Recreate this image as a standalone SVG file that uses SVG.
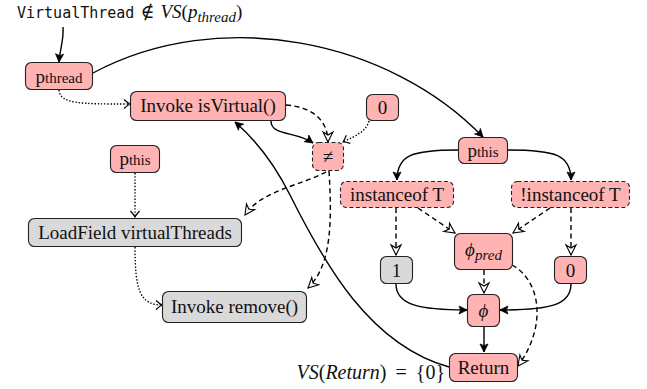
<svg xmlns="http://www.w3.org/2000/svg" width="647" height="389" viewBox="0 0 647 389">
<style>
.n rect{stroke:#222;stroke-width:1.1}
.pink{fill:#FFB3B3}
.gray{fill:#D9D9D9}
.dn rect{stroke-dasharray:4 2.5}
text{font-family:"Liberation Serif","DejaVu Serif",serif;font-size:19px;fill:#111;text-anchor:middle}
.e path{fill:none;stroke:#000;stroke-width:1.4}
.sol{marker-end:url(#ms)}
.dash{stroke-dasharray:5 3.5;marker-end:url(#md)}
.dot{stroke-dasharray:1.4 1.8;marker-end:url(#mt)}
</style>
<defs>
<marker id="ms" markerUnits="userSpaceOnUse" orient="auto" refX="0" refY="0" viewBox="-9 -6 10 12" markerWidth="10" markerHeight="12" overflow="visible">
<path d="M0,0 L-8,-4 Q-5,0 -8,4 Z" fill="#000" stroke="#000" stroke-width="0.8" stroke-linejoin="round"/>
</marker>
<marker id="md" markerUnits="userSpaceOnUse" orient="auto" refX="0" refY="0" viewBox="-10 -6 11 12" markerWidth="11" markerHeight="12" overflow="visible">
<path d="M0,0 L-10,-5 L-7,0 L-10,5 Z" fill="#fff" stroke="#000" stroke-width="1.1" stroke-linejoin="miter"/>
</marker>
<marker id="mt" markerUnits="userSpaceOnUse" orient="auto" refX="0" refY="0" viewBox="-9 -6 10 12" markerWidth="10" markerHeight="12" overflow="visible">
<path d="M-6,-4.5 Q-2,-1 0,0 Q-2,1 -6,4.5" fill="none" stroke="#000" stroke-width="1.2"/>
</marker>
</defs>

<g id="title">
<text x="17" y="18" style="text-anchor:start"><tspan style="font-family:'DejaVu Sans Mono','Liberation Mono',monospace;font-size:15px">VirtualThread</tspan><tspan dx="6">∉</tspan><tspan dx="6" font-style="italic">VS</tspan><tspan>(</tspan><tspan font-style="italic">p</tspan><tspan font-style="italic" font-size="15" dy="4">thread</tspan><tspan dy="-4">)</tspan></text>
</g>
<g id="vsreturn">
<text x="445" y="379" style="text-anchor:end;font-size:20px"><tspan font-style="italic">VS</tspan>(<tspan font-style="italic">Return</tspan>)<tspan dx="9">=</tspan><tspan dx="9">{0}</tspan></text>
</g>

<g id="connectors" class="e">
<path class="sol" d="M63 27 C64 40 60 48 59 62"/>
<path class="sol" d="M93 73 C220 5 390 40 483 137"/>
<path class="dot" d="M59 90 C60 104 80 104 130 104"/>
<path class="sol" d="M271 121 C271 136 296 131 313 143"/>
<path class="dash" d="M286 105 C312 107 328 120 328 142"/>
<path class="dot" d="M369 121 C366 132 355 136 343 142"/>
<path class="dash" d="M326 172 C300 186 262 190 245 215"/>
<path class="dash" d="M329 171 C332 220 332 265 308 288"/>
<path class="sol" d="M449 367 C370 345 325 265 290 195 C270 155 250 135 235 122"/>
<path class="sol" d="M458 150 C412 150 397 155 397 180"/>
<path class="sol" d="M508 150 C556 150 571 155 571 180"/>
<path class="dot" d="M135 173 L135 217"/>
<path class="dot" d="M135 247 C135 290 140 305 162 305"/>
<path class="dash" d="M396 208 L396 255"/>
<path class="dash" d="M418 208 L455 233"/>
<path class="dash" d="M550 208 L513 233"/>
<path class="dash" d="M571 208 L571 255"/>
<path class="dash" d="M484 270 L484 293"/>
<path class="dash" d="M512 265 C540 280 548 325 518 366"/>
<path class="sol" d="M396 284 C396 305 420 310 467 310"/>
<path class="sol" d="M571 284 C571 305 550 310 500 310"/>
<path class="sol" d="M484 327 L484 352"/>
</g>

<g id="pthread" class="n"><rect class="pink" x="25.5" y="62.5" width="67" height="27" rx="6"/><text x="59" y="83">p<tspan font-size="15">thread</tspan></text></g>
<g id="isVirtual" class="n"><rect class="pink" x="130.5" y="91.5" width="155" height="29" rx="6"/><text x="208" y="112">Invoke isVirtual()</text></g>
<g id="zeroTop" class="n"><rect class="pink" x="366.5" y="94.5" width="32" height="26" rx="6"/><text x="382.5" y="114">0</text></g>
<g id="neq" class="n dn"><rect class="pink" x="312.5" y="142.5" width="31" height="28" rx="6"/><text x="328" y="163">≠</text></g>
<g id="pthisRight" class="n"><rect class="pink" x="458.5" y="137.5" width="49" height="26" rx="6"/><text x="483" y="157">p<tspan font-size="15">this</tspan></text></g>
<g id="pthisLeft" class="n"><rect class="pink" x="110.5" y="145.5" width="49" height="27" rx="6"/><text x="135" y="165">p<tspan font-size="15">this</tspan></text></g>
<g id="instanceof" class="n dn"><rect class="pink" x="340.5" y="181.5" width="113" height="26" rx="6"/><text x="397" y="201">instanceof T</text></g>
<g id="notInstanceof" class="n dn"><rect class="pink" x="511.5" y="181.5" width="118" height="26" rx="6"/><text x="570.5" y="201">!instanceof T</text></g>
<g id="loadField" class="n"><rect class="gray" x="28.5" y="218.5" width="213" height="28" rx="6"/><text x="135" y="239">LoadField virtualThreads</text></g>
<g id="phiPred" class="n"><rect class="pink" x="454.5" y="233.5" width="58" height="36" rx="6"/><text x="483.5" y="256" font-style="italic">ϕ<tspan font-size="15" dy="4">pred</tspan></text></g>
<g id="one" class="n"><rect class="gray" x="380.5" y="256.5" width="32" height="27" rx="6"/><text x="396.5" y="277">1</text></g>
<g id="zeroRight" class="n"><rect class="pink" x="554.5" y="256.5" width="32" height="27" rx="6"/><text x="570.5" y="277">0</text></g>
<g id="invokeRemove" class="n"><rect class="gray" x="162.5" y="291.5" width="144" height="31" rx="6"/><text x="234.5" y="313">Invoke remove()</text></g>
<g id="phi" class="n"><rect class="pink" x="467.5" y="294.5" width="32" height="32" rx="6"/><text x="483.5" y="317" font-style="italic">ϕ</text></g>
<g id="return" class="n"><rect class="pink" x="449.5" y="353.5" width="68" height="28" rx="6"/><text x="483.5" y="374">Return</text></g>
</svg>
